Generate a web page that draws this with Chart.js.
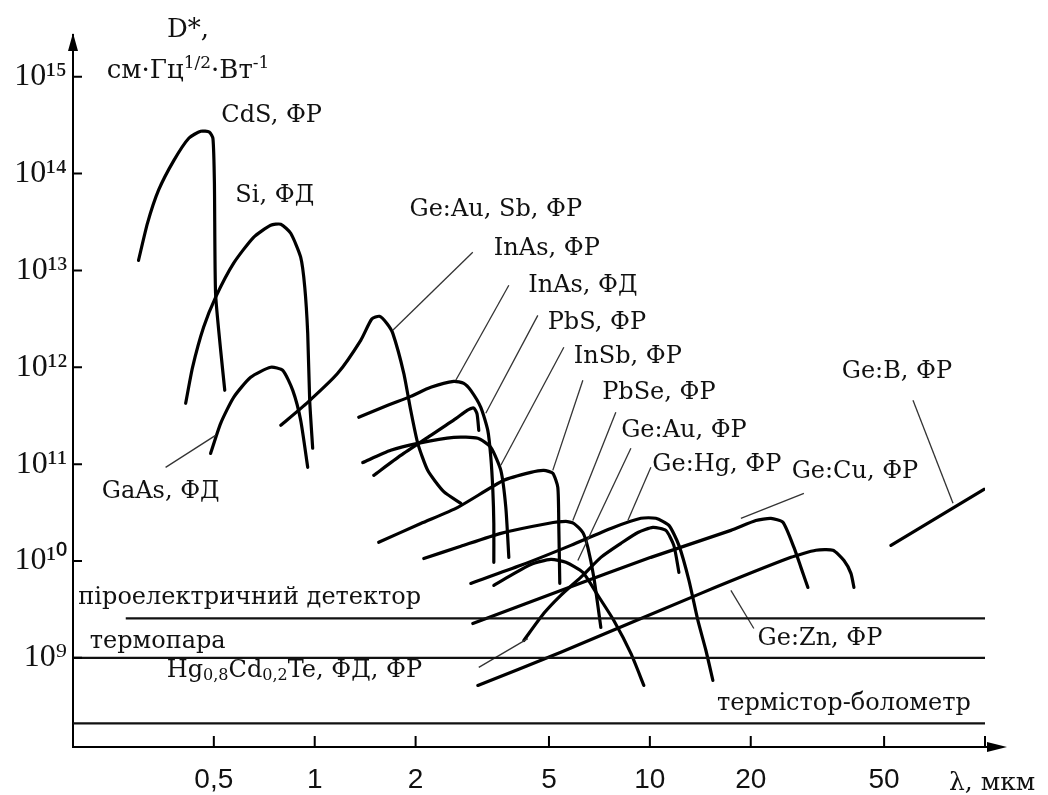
<!DOCTYPE html>
<html>
<head>
<meta charset="utf-8">
<script src="https://cdn.jsdelivr.net/npm/chart.js@4.4.1/dist/chart.umd.min.js"></script>
<style>
  html, body { margin: 0; padding: 0; background: #fff; }
  #wrap { width: 1048px; height: 795px; position: relative; }
</style>
</head>
<body>
<div id="wrap"><canvas id="chart"></canvas></div>
<script>
// [wavelength, мкм ; D*, см·Гц^1/2·Вт^-1]
const cdsFR = [[0.298,1.27e13],[0.317,3.08e13],[0.342,6.74e13],[0.380,1.37e14],[0.421,2.32e14],[0.457,2.74e14],[0.485,2.68e14],[0.497,2.30e14],[0.502,8.0e13],[0.506,5.81e12],[0.524,1.50e12],[0.539,5.79e11]];
const siFD = [[0.412,4.25e11],[0.432,1.0e12],[0.466,2.59e12],[0.506,5.28e12],[0.573,1.19e13],[0.657,2.20e13],[0.739,2.93e13],[0.792,3.00e13],[0.848,2.42e13],[0.908,1.37e13],[0.934,6.70e12],[0.953,2.24e12],[0.966,4.56e11],[0.986,1.46e11]];
const gaasFD = [[0.489,1.29e11],[0.524,2.64e11],[0.573,4.90e11],[0.644,7.89e11],[0.739,1.0e12],[0.803,9.31e11],[0.860,5.78e11],[0.908,2.84e11],[0.953,9.27e10]];
const geAuSbFR = [[0.792,2.52e11],[0.953,4.35e11],[1.171,8.67e11],[1.372,1.90e12],[1.480,3.15e12],[1.560,3.36e12],[1.640,2.85e12],[1.710,2.24e12],[1.844,8.67e11],[1.934,3.60e11],[2.030,1.64e11],[2.175,8.6e10],[2.427,5.2e10],[2.729,3.94e10]];
const inasFR = [[1.353,3.05e11],[1.652,4.05e11],[1.934,5.01e11],[2.220,6.21e11],[2.600,7.16e11],[2.785,6.83e11],[2.922,5.78e11],[3.130,3.86e11],[3.284,2.23e11],[3.353,1.18e11],[3.400,5.36e10],[3.423,2.44e10],[3.423,9.68e9]];
const inasFD = [[1.500,7.66e10],[1.806,1.23e11],[2.220,1.98e11],[2.636,2.95e11],[2.850,3.6e11],[2.980,3.8e11],[3.050,3.3e11],[3.087,2.23e11]];
const pbsFR = [[1.391,1.04e11],[1.686,1.39e11],[2.030,1.64e11],[2.600,1.89e11],[3.066,1.85e11],[3.353,1.49e11],[3.592,8.63e10],[3.717,3.58e10],[3.795,1.09e10]];
const insbFR = [[1.552,1.56e10],[2.072,2.44e10],[2.673,3.58e10],[3.666,6.81e10],[4.414,8.23e10],[4.827,8.63e10],[5.133,8.04e10],[5.313,5.75e10],[5.350,2.22e10],[5.386,5.88e9]];
const pbseFR = [[2.115,1.06e10],[2.729,1.42e10],[3.592,1.93e10],[4.961,2.44e10],[5.614,2.56e10],[5.933,2.44e10],[6.310,1.97e10],[6.530,1.38e10],[6.804,6.78e9],[7.141,2.06e9]];
const geAuFR = [[3.423,5.60e9],[3.848,7.10e9],[4.414,9.22e9],[5.064,1.04e10],[5.614,9.69e9],[6.310,7.63e9],[6.995,4.42e9],[7.807,2.43e9],[8.778,1.11e9],[9.596,5.19e8]];
const geHgFR = [[2.922,5.87e9],[4.120,9.02e9],[5.810,1.45e10],[7.648,2.17e10],[9.400,2.76e10],[10.42,2.76e10],[11.40,2.33e10],[12.21,1.45e10],[13.08,6.31e9],[13.91,2.43e9],[14.70,1.19e9],[15.42,5.85e8]];
const hgcdte = [[4.206,1.51e9],[4.827,2.88e9],[5.424,4.42e9],[6.310,7.10e9],[7.142,1.09e10],[8.194,1.52e10],[9.209,1.97e10],[10.21,2.22e10],[11.16,2.07e10],[11.79,1.45e10],[12.21,7.62e9]];
const geCuFR = [[2.962,2.26e9],[5.424,4.97e9],[10.07,1.09e10],[17.45,2.07e10],[20.72,2.62e10],[22.97,2.75e10],[24.95,2.51e10],[26.91,1.38e10],[28.23,8.59e9],[29.62,5.33e9]];
const geZnFR = [[3.066,5.19e8],[5.424,1.14e9],[14.20,4.63e9],[26.36,1.09e10],[31.30,1.29e10],[35.18,1.29e10],[37.95,1.01e10],[39.81,7.45e9],[40.64,5.33e9]];
const geBFR = [[52.41,1.45e10],[99.3,5.50e10]];

// flat detectors: [from wavelength, level]
const pyroLevel = [0.273, 2.55e9];
const thermocoupleLevel = [0.19, 1.0e9];
const thermistorLevel = [0.19, 2.1e8];

// thin leader lines from curves to their captions
const leaders = [
  [[0.359,9.27e10],[0.506,1.98e11]],
  [[1.710,2.41e12],[2.962,1.54e13]],
  [[2.636,7.35e11],[3.795,7.03e12]],
  [[3.239,3.35e11],[4.631,3.44e12]],
  [[3.592,9.73e10],[5.538,1.61e12]],
  [[5.133,8.63e10],[6.310,7.35e11]],
  [[5.890,2.62e10],[7.915,3.43e11]],
  [[6.097,1.01e10],[8.778,1.46e11]],
  [[8.597,2.62e10],[10.07,9.27e10]],
  [[18.69,2.76e10],[28.82,4.99e10]],
  [[80.27,3.94e10],[60.97,4.56e11]],
  [[17.45,4.97e9],[20.43,2.01e9]],
  [[3.087,7.96e8],[4.323,1.58e9]]
];

const labelNames = ['CdS, ФР','Si, ФД','GaAs, ФД','Ge:Au, Sb, ФР','InAs, ФР','InAs, ФД','PbS, ФР','InSb, ФР','PbSe, ФР','Ge:Au, ФР','Ge:Hg, ФР','Ge:Cu, ФР','Ge:B, ФР','Ge:Zn, ФР','термістор-болометр','піроелектричний детектор','термопара'];
const labelWl = [0.744,0.760,0.347,3.470,4.927,6.310,6.947,8.597,10.64,12.64,15.85,40.92,54.6,32.18,37.93,0.640,0.340];
const labelD = [3.92e14,5.85e13,5.24e10,4.19e13,1.69e13,7.03e12,2.85e12,1.27e12,5.52e11,2.23e11,9.95e10,8.44e10,9.10e11,1.58e9,3.38e8,4.21e9,1.48e9];
const hgcdteLabelAt = [0.87, 7.3e8];

const xTickVals = [0.5, 1, 2, 5, 10, 20, 50, 100];
const xTickText = ['0,5', '1', '2', '5', '10', '20', '50', ''];
const yTickVals = [1e9, 1e10, 1e11, 1e12, 1e13, 1e14, 1e15];
const yTickText = ['10⁹', '10¹⁰', '10¹¹', '10¹²', '10¹³', '10¹⁴', '10¹⁵'];

const curves = [cdsFR, siFD, gaasFD, geAuSbFR, inasFR, inasFD, pbsFR, insbFR, pbseFR, geAuFR, geHgFR, hgcdte, geCuFR, geZnFR, geBFR];
const levels = [pyroLevel, thermocoupleLevel, thermistorLevel];

const toPts = arr => arr.map(p => ({ x: p[0], y: p[1] }));

const datasets = [];
levels.forEach(l => datasets.push({
  data: [{ x: l[0], y: l[1] }, { x: 100, y: l[1] }],
  borderColor: '#111', borderWidth: 2.2, pointRadius: 0, showLine: true
}));
leaders.forEach(l => datasets.push({
  data: toPts(l), borderColor: '#333', borderWidth: 1.3, pointRadius: 0, showLine: true
}));
curves.forEach(c => datasets.push({
  data: toPts(c), borderColor: '#000', borderWidth: 3.2, pointRadius: 0,
  showLine: true, tension: 0.2, borderCapStyle: 'round', borderJoinStyle: 'round'
}));

const serif = '"DejaVu Serif", serif';

// text with sub/superscript pieces: 0 normal, 1 sub, -1 sup
function richText(ctx, parts, x, y, size, align) {
  const small = Math.round(size * 0.65);
  let total = 0;
  parts.forEach(p => {
    ctx.font = (p[1] ? small : size) + 'px ' + serif;
    total += ctx.measureText(p[0]).width;
  });
  let cx = align === 'center' ? x - total / 2 : x;
  ctx.textAlign = 'left';
  parts.forEach(p => {
    ctx.font = (p[1] ? small : size) + 'px ' + serif;
    const dy = p[1] === 1 ? size * 0.22 : p[1] === -1 ? -size * 0.38 : 0;
    ctx.fillText(p[0], cx, y + dy);
    cx += ctx.measureText(p[0]).width;
  });
}

const decor = {
  id: 'decor',
  afterDraw(chart) {
    const { ctx, chartArea: a, scales: { x, y } } = chart;
    ctx.save();
    ctx.strokeStyle = '#000';
    ctx.fillStyle = '#000';
    ctx.lineWidth = 2;
    ctx.beginPath();
    xTickVals.forEach(v => {
      const px = x.getPixelForValue(v);
      ctx.moveTo(px, a.bottom); ctx.lineTo(px, a.bottom - 11);
    });
    yTickVals.forEach(v => {
      const py = y.getPixelForValue(v);
      ctx.moveTo(a.left, py); ctx.lineTo(a.left + 9, py);
    });
    ctx.moveTo(a.right, a.bottom); ctx.lineTo(a.right + 12, a.bottom);
    ctx.stroke();
    // arrow heads
    ctx.beginPath();
    ctx.moveTo(a.right + 22, a.bottom);
    ctx.lineTo(a.right + 2, a.bottom - 5);
    ctx.lineTo(a.right + 2, a.bottom + 5);
    ctx.closePath();
    ctx.moveTo(a.left, a.top - 2);
    ctx.lineTo(a.left - 5, a.top + 16);
    ctx.lineTo(a.left + 5, a.top + 16);
    ctx.closePath();
    ctx.fill();

    // captions
    ctx.fillStyle = '#111';
    ctx.textBaseline = 'middle';
    ctx.textAlign = 'center';
    ctx.font = '24px ' + serif;
    labelNames.forEach((t, i) => {
      ctx.fillText(t, x.getPixelForValue(labelWl[i]), y.getPixelForValue(labelD[i]));
    });
    richText(ctx, [['Hg', 0], ['0,8', 1], ['Cd', 0], ['0,2', 1], ['Te, ФД, ФР', 0]],
      x.getPixelForValue(hgcdteLabelAt[0]), y.getPixelForValue(hgcdteLabelAt[1]), 24, 'center');

    // axis titles
    ctx.textBaseline = 'alphabetic';
    ctx.textAlign = 'center';
    ctx.font = '26px ' + serif;
    ctx.fillText('D*,', a.left + 115, a.top + 2);
    richText(ctx, [['см·Гц', 0], ['1/2', -1], ['·Вт', 0], ['-1', -1]], a.left + 115, a.top + 43, 26, 'center');
    ctx.textAlign = 'left';
    ctx.font = '25px ' + serif;
    ctx.fillText('λ, мкм', a.right - 36, a.bottom + 43);
    ctx.restore();
  }
};

new Chart(document.getElementById('chart'), {
  type: 'scatter',
  data: { datasets },
  options: {
    responsive: true,
    maintainAspectRatio: false,
    animation: false,
    layout: { padding: { left: 0, top: 35, right: 63, bottom: 0 } },
    plugins: { legend: { display: false }, tooltip: { enabled: false } },
    scales: {
      x: {
        type: 'logarithmic',
        min: 0.19, max: 100,
        afterBuildTicks: s => { s.ticks = xTickVals.map(v => ({ value: v })); },
        afterFit: s => { s.height = 48; },
        grid: { display: false, drawTicks: false },
        border: { display: true, color: '#000', width: 2 },
        ticks: {
          autoSkip: false, maxRotation: 0, padding: 16, color: '#111',
          font: { family: 'Liberation Sans', size: 28 },
          callback: (v, i) => xTickText[i]
        }
      },
      y: {
        type: 'logarithmic',
        min: 1.2e8, max: 2.7e15,
        afterBuildTicks: s => { s.ticks = yTickVals.map(v => ({ value: v })); },
        afterFit: s => { s.width = 73; },
        grid: { display: false, drawTicks: false },
        border: { display: true, color: '#000', width: 2 },
        ticks: {
          autoSkip: false, padding: 6, color: '#111',
          font: { family: 'Liberation Serif', size: 32 },
          callback: (v, i) => yTickText[i]
        }
      }
    }
  },
  plugins: [decor]
});
</script>
</body>
</html>
